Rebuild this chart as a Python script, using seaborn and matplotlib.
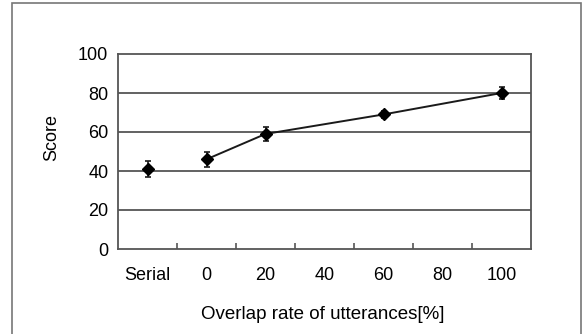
import matplotlib
matplotlib.use("Agg")
from matplotlib import pyplot as plt
from matplotlib.patches import Rectangle
import numpy as np
import pandas as pd
import seaborn as sns

# categories on the x axis (Excel style category axis)
categories = ["Serial", "0", "20", "40", "60", "80", "100"]
scores = [41, 46, 59, np.nan, 69, np.nan, 80]
errors = [4, 4, 3.5, np.nan, 2, np.nan, 3]
connected = [False, True, True, True, True, True, True]

sns.set_theme(style="white")
plt.rcParams['font.family'] = ['Liberation Sans', 'DejaVu Sans']

df = pd.DataFrame({"cat": categories, "score": scores, "err": errors,
                   "connected": connected})
df["pos"] = np.arange(len(df))

fig = plt.figure(figsize=(5.84, 3.34), dpi=100)
ax = fig.add_axes([118 / 584, 1 - 249 / 334, 413 / 584, 195 / 334])

# line through the overlap-rate points only
line_df = df[df["connected"] & df["score"].notna()]
sns.lineplot(data=line_df, x="pos", y="score", ax=ax, color="#1a1a1a",
             lw=1.4, zorder=3)

pts = df[df["score"].notna()]
ax.errorbar(pts["pos"], pts["score"], yerr=pts["err"], fmt="D", ms=6.5,
            color="black", ecolor="#1a1a1a", elinewidth=1.2, capsize=2.5,
            capthick=1.2, zorder=4)

ax.set_xlim(-0.5, len(categories) - 0.5)
ax.set_ylim(0, 100)
ax.set_yticks([0, 20, 40, 60, 80, 100])
ax.set_xticks(df["pos"])
ax.set_xticklabels(categories)
ax.set_xticks(np.arange(0.5, len(categories) - 1, 1), minor=True)
ax.tick_params(axis="x", which="major", length=0, pad=13, labelsize=13,
               labelcolor="black")
ax.tick_params(axis="x", which="minor", direction="in", length=4,
               width=1.2, color="#555555", bottom=True)
ax.tick_params(axis="y", length=0, pad=7, labelsize=13,
               labelcolor="black")

for yv in [20, 40, 60, 80]:
    ax.axhline(yv, color="#555555", lw=1.3, zorder=1)
for s in ax.spines.values():
    s.set_visible(True)
    s.set_color("#555555")
    s.set_linewidth(1.3)

ax.set_xlabel("Overlap rate of utterances[%]", fontsize=13.5, color="black")
ax.set_ylabel("Score", fontsize=13, color="black")
ax.xaxis.set_label_coords(0.496, -0.29)
ax.yaxis.set_label_coords(-0.14, 0.57)

# outer chart border
fig.patches.append(Rectangle((12 / 584, -0.02), 569 / 584, 1 - 3 / 334 + 0.02,
                             transform=fig.transFigure, fill=False,
                             edgecolor="#777777", lw=1.2))

fig.savefig("out.png", dpi=100)
